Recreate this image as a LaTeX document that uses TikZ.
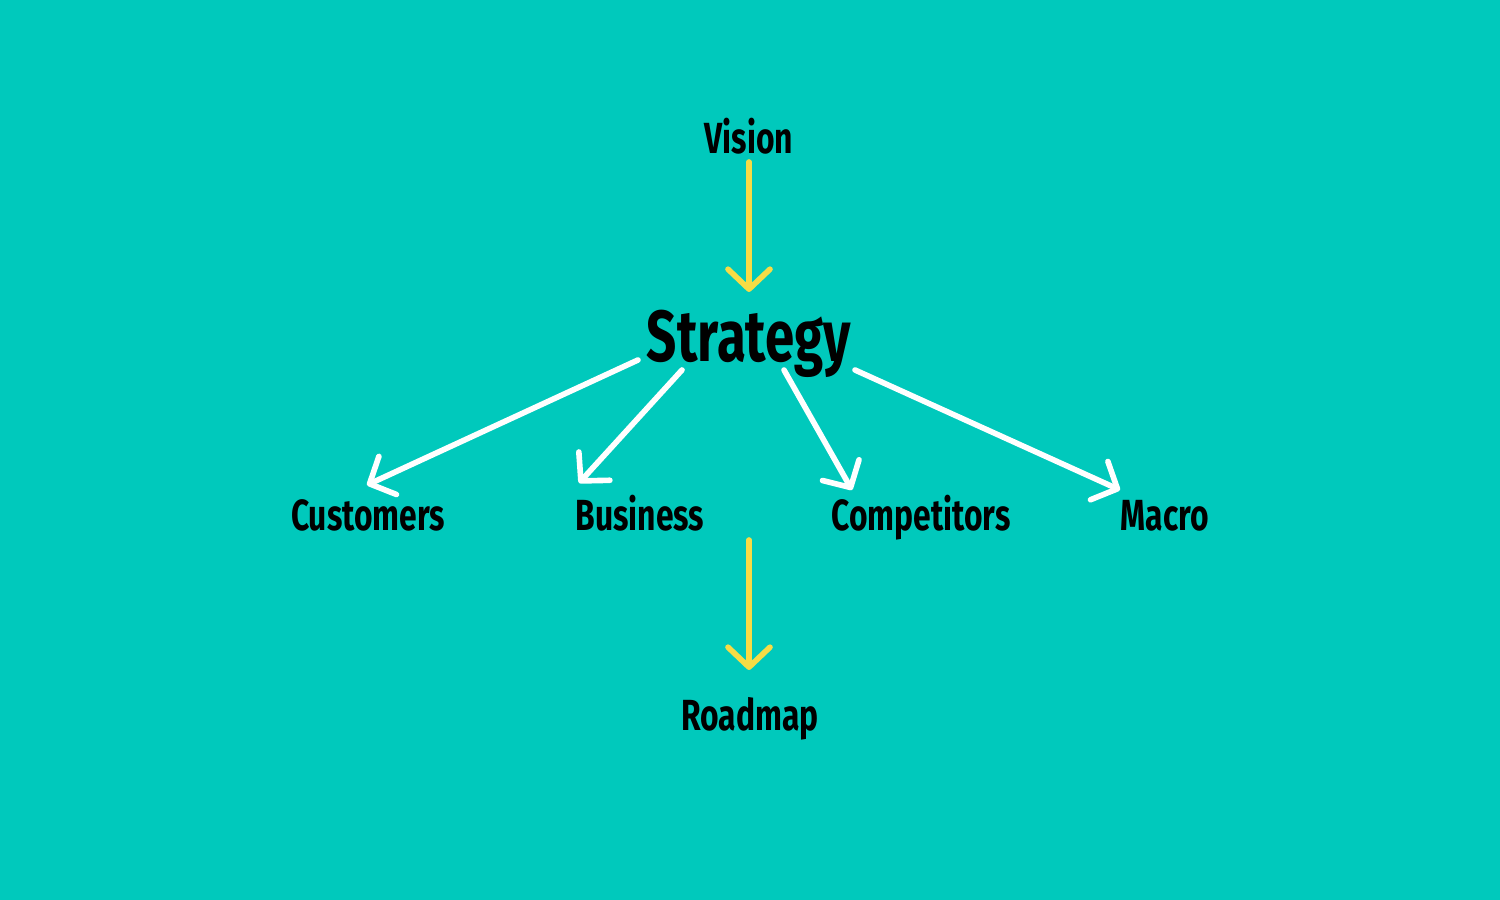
\documentclass[tikz,border=0pt]{standalone}
\usepackage{fontspec}
\setmainfont{Fira Sans}[FakeStretch=0.73]
\usetikzlibrary{arrows.meta}
\definecolor{bgteal}{HTML}{00C9BC}
\definecolor{arrowyellow}{HTML}{F7DC45}
\tikzset{
  lbl/.style={anchor=base, inner sep=0pt, font=\fontsize{12.4}{14}\selectfont\bfseries, text=black},
  mainlbl/.style={anchor=base, inner sep=0pt, font=\fontsize{20.6}{24}\selectfont\bfseries, text=black},
  conn/.style={line width=1.6pt, line cap=round, -{Straight Barb[length=0.2cm, width=0.42cm, round]}},
  yconn/.style={conn, draw=arrowyellow},
  wconn/.style={conn, draw=white},
}
\begin{document}
\begin{tikzpicture}
\fill[bgteal] (0,0) rectangle (15,9);
\useasboundingbox (0,0) rectangle (15,9);
\node[lbl] (vision) at (7.49,7.46) {Vision};
\node[mainlbl] (strategy) at (7.49,5.38) {Strategy};
\node[lbl] (customers) at (3.68,3.69) {Customers};
\node[lbl] (business) at (6.40,3.69) {Business};
\node[lbl] (competitors) at (9.21,3.69) {Competitors};
\node[lbl] (macro) at (11.65,3.69) {Macro};
\node[lbl] (roadmap) at (7.50,1.69) {Roadmap};
% connector end points
\coordinate (v0) at (7.49,7.38); \coordinate (v1) at (7.49,6.08);
\coordinate (r0) at (7.49,3.60); \coordinate (r1) at (7.49,2.30);
\coordinate (c0) at (6.38,5.40); \coordinate (c1) at (3.67,4.15);
\coordinate (b0) at (6.82,5.30); \coordinate (b1) at (5.79,4.17);
\coordinate (p0) at (7.84,5.30); \coordinate (p1) at (8.52,4.10);
\coordinate (m0) at (8.55,5.30); \coordinate (m1) at (11.20,4.10);
\draw[yconn] (v0) -- (v1);
\draw[yconn] (r0) -- (r1);
\draw[wconn] (c0) -- (c1);
\draw[wconn] (b0) -- (b1);
\draw[wconn] (p0) -- (p1);
\draw[wconn] (m0) -- (m1);
\end{tikzpicture}
\end{document}
